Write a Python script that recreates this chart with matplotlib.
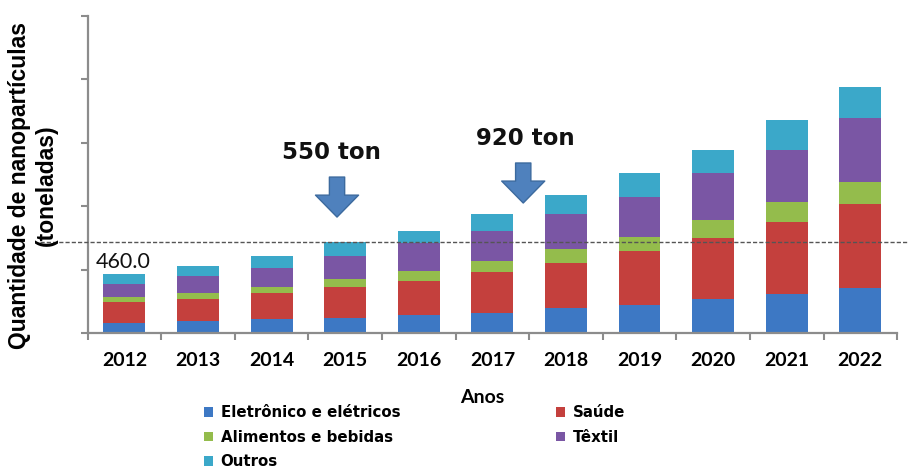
import numpy as np
import matplotlib
matplotlib.use('Agg')
import matplotlib.pyplot as plt
from matplotlib.patches import Patch

# Nanoparticle use per sector, tonnes
anos = ['2012', '2013', '2014', '2015', '2016', '2017', '2018', '2019', '2020', '2021', '2022']
eletronicos = [50, 59, 69, 77, 91, 102, 128, 143, 170, 195, 229]
saude = [106, 111, 134, 153, 173, 204, 227, 270, 311, 364, 423]
alimentos = [25, 33, 27, 42, 50, 58, 71, 71, 87, 104, 112]
textil = [66, 84, 99, 117, 138, 151, 176, 202, 238, 262, 319]
outros = [50, 52, 60, 68, 64, 88, 92, 121, 118, 151, 161]

setores = ['Eletrônico e elétricos', 'Saúde', 'Alimentos e bebidas', 'Têxtil', 'Outros']
cores = ['#3D78C4', '#C4403D', '#94BC4C', '#7A56A4', '#3BA8C9']

ref_valor = 460.0
# callouts: text, bar index, arrow x shift, text x shift, gap above bar top
notas = [('550 ton', 3, -0.11, -0.19, 128), ('920 ton', 5, 0.42, 0.45, 53)]

fig = plt.figure(figsize=(9.08, 4.70), dpi=100)
ax = fig.add_axes([0.0964, 0.2915, 0.8916, 0.6745])

x = np.arange(len(anos))
series = [eletronicos, saude, alimentos, textil, outros]
base = np.zeros(len(anos))
for valores, cor in zip(series, cores):
    ax.bar(x, valores, width=0.57, bottom=base, color=cor, zorder=2)
    base = base + np.array(valores)
totais = base

ax.set_xlim(-0.5, len(anos) - 0.5)
ax.set_ylim(0, 1600)

grey = '#8c8c8c'
for s in ['top', 'right']:
    ax.spines[s].set_visible(False)
for s in ['left', 'bottom']:
    ax.spines[s].set_color(grey)
    ax.spines[s].set_linewidth(1.6)

ax.set_yticks(np.arange(0, 1601, 320))
ax.set_yticklabels([])
ax.tick_params(axis='y', length=5, width=1.5, color=grey, direction='out')

ax.set_xticks(x)
ax.set_xticklabels(anos, fontsize=14, fontweight='bold', family='Lato')
ax.set_xticks(np.arange(-0.5, len(anos)), minor=True)
ax.tick_params(axis='x', which='major', length=0, pad=14)
ax.tick_params(axis='x', which='minor', length=5, width=1.5, color=grey)

# reference line with its value
ax.axhline(ref_valor, xmin=-0.059, xmax=1.0136, clip_on=False,
           color='#555555', lw=1, dashes=(3, 1.5), zorder=3)
ax.text(-0.39, ref_valor - 100, '%.1f' % ref_valor, ha='left', va='center',
        fontsize=15.5, family='Lato', color='#111111')

# arrows pointing at the bars
for texto, i, dx, tx, gap in notas:
    ponta = totais[i] + gap
    cauda = ponta + 202
    ax.annotate('', xy=(i + dx, ponta), xytext=(i + dx, cauda),
                arrowprops=dict(arrowstyle='simple,head_length=15.8,head_width=31,tail_width=11',
                                mutation_scale=1, shrinkA=0, shrinkB=0,
                                fc='#4F81BD', ec='#3C6A9E', lw=1))
    ax.text(i + tx, cauda + 125, texto, ha='center', va='center',
            fontsize=16.5, fontweight='heavy', family='DejaVu Sans', color='#111111')

fig.text(0.036, 0.606, 'Quantidade de nanopartículas\n(toneladas)', rotation=90,
         ha='center', va='center', multialignment='center', fontsize=16.5,
         fontweight='bold', family='Liberation Sans', linespacing=1.2)
fig.text(0.531, 0.155, 'Anos', ha='center', va='center', fontsize=14,
         fontweight='bold', family='Lato')

ordem = [0, 2, 4, 1, 3]
handles = [Patch(fc=cores[k], ec='none') for k in ordem]
labels = [setores[k] for k in ordem]
fig.legend(handles, labels, ncol=2, loc='upper left', bbox_to_anchor=(0.2247, 0.138),
           frameon=False, prop=dict(family='DejaVu Sans', weight='bold', size=10.8),
           handlelength=0.6, handleheight=0.6, handletextpad=0.5, columnspacing=10.4,
           labelspacing=0.64, borderpad=0, borderaxespad=0)

fig.savefig('out.png', dpi=100)
